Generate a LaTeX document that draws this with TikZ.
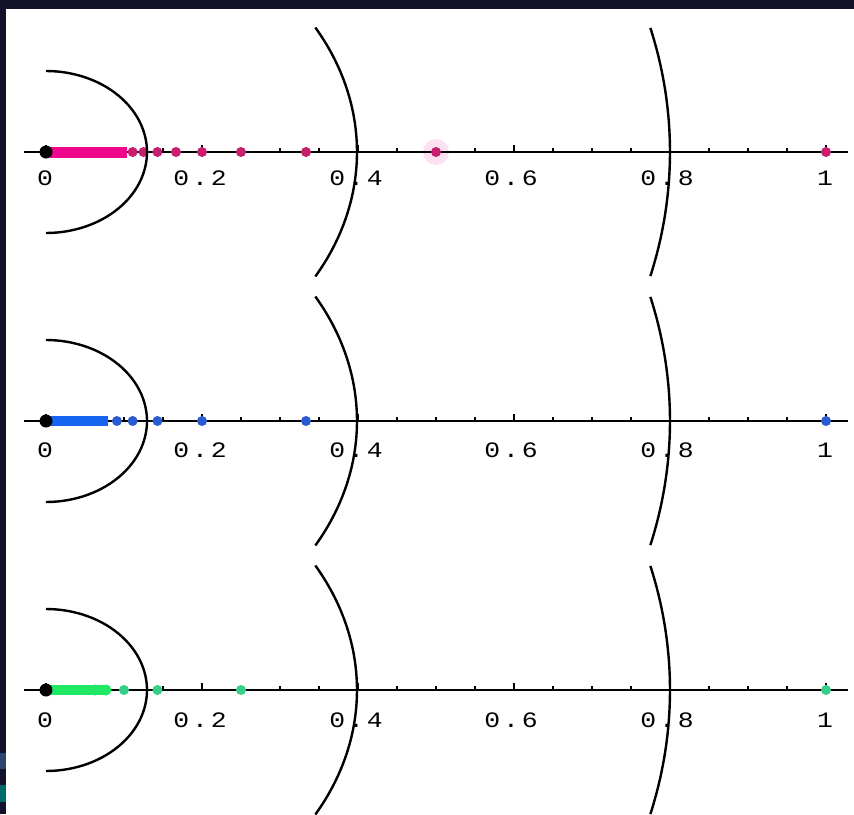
\documentclass[tikz,border=0pt]{standalone}
\usepackage{fontspec}
\newfontfamily\labfont[FakeStretch=1.2]{Liberation Mono}
\definecolor{bordercol}{HTML}{12122A}
\definecolor{slatecol}{HTML}{2E4470}
\definecolor{tealcol}{HTML}{006A6A}
\definecolor{pinkline}{HTML}{F0068C}
\definecolor{pinkdot}{HTML}{C81E6E}
\definecolor{blueline}{HTML}{1565F0}
\definecolor{bluedot}{HTML}{2A5BD0}
\definecolor{greenline}{HTML}{1EE864}
\definecolor{greendot}{HTML}{35CF8A}
\newcommand\dlab[1]{0\kern2.9pt.\kern2.9pt#1}
\begin{document}
\begin{tikzpicture}[x=1pt,y=-1pt,
  axisline/.style={line width=2.6pt,black},
  tickline/.style={line width=1.6pt,black},
  curveline/.style={line width=2.4pt,black},
  lab/.style={font=\labfont\fontsize{22}{22}\selectfont,anchor=base,inner sep=0pt}]
\fill[bordercol] (0,0) rectangle (854,814);
\fill[white] (6,9) rectangle (854,814);
\fill[slatecol] (0,753) rectangle (6,769);
\fill[tealcol] (0,785) rectangle (6,802);
\useasboundingbox (0,0) rectangle (854,814);
\begin{scope}
\clip (6,9) rectangle (854,814);
% halo at 1/2
\fill[pinkline!12] (436,152) circle (13);
\foreach \cy/\lb in {152/185,421/457,690/727}{
  \draw[axisline] (24,\cy) -- (848,\cy);
  \foreach \k in {1,2,3,5,6,7,9,10,11,13,14,15,17,18,19}
    \draw[tickline] ({46+39*\k},\cy) -- ++(0,-4.5);
  \foreach \k in {0,...,5}
    \draw[tickline] ({46+156*\k},\cy) -- ++(0,-7);
  \node[lab] at (45,\lb) {0};
  \node[lab] at (200,\lb) {\dlab{2}};
  \node[lab] at (356,\lb) {\dlab{4}};
  \node[lab] at (511,\lb) {\dlab{6}};
  \node[lab] at (667,\lb) {\dlab{8}};
  \node[lab] at (825,\lb) {1};
}
% row 1: all 1/n
\draw[pinkline,line width=11pt] (50,152) -- (127,152);
\foreach \n in {1,...,9} \fill[pinkdot] ({46+780/\n},152) circle (5);
% row 2: odd 1/n
\draw[blueline,line width=10pt] (50,421) -- (108,421);
\foreach \n in {1,3,5,7,9,11} \fill[bluedot] ({46+780/\n},421) circle (5);
% row 3: 1/(3k+1)
\draw[greenline,line width=10pt] (50,690) -- (104,690);
\foreach \n in {13,16} \fill[greenline] ({46+780/\n},690) circle (5.5);
\foreach \n in {1,4,7,10} \fill[greendot] ({46+780/\n},690) circle (5);
% black dots at 0
\foreach \cy in {152,421,690} \fill[black] (46,\cy) circle (6.5);
% curves
\foreach \cy in {152,421,690}{
  \draw[curveline] plot[domain=-90:90,samples=60] ({46+101*cos(\x)},{\cy+81*sin(\x)});
  \draw[curveline] plot[domain=-30:30,samples=60] ({46+311*cos(\x)},{\cy+249*sin(\x)});
  \draw[curveline] plot[domain=-14.4:14.4,samples=60] ({46+624*cos(\x)},{\cy+499*sin(\x)});
}
\end{scope}
\end{tikzpicture}
\end{document}
